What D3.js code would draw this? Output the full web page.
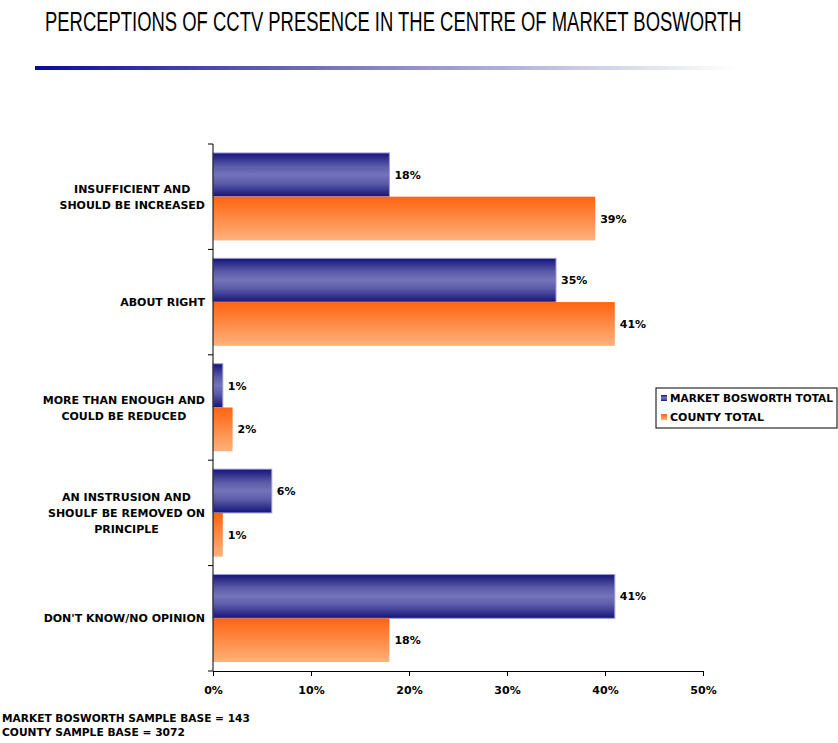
<!DOCTYPE html>
<html>
<head>
<meta charset="utf-8">
<script src="https://cdn.jsdelivr.net/npm/d3@7/dist/d3.min.js"></script>
<style>
  html, body { margin: 0; padding: 0; background: #fff; }
  svg { display: block; }
  .lbl { font-family: "DejaVu Sans", Verdana, sans-serif; font-weight: bold; font-size: 11px; fill: #000; }
</style>
</head>
<body>
<script>
// Survey categories (each label line is a separate entry)
const categories = [
  ["INSUFFICIENT AND", "SHOULD BE INCREASED"],
  ["ABOUT RIGHT"],
  ["MORE THAN ENOUGH AND", "COULD BE REDUCED"],
  ["AN INSTRUSION AND", "SHOULF BE REMOVED ON", "PRINCIPLE"],
  ["DON'T KNOW/NO OPINION"]
];
const seriesNames = ["MARKET BOSWORTH TOTAL", "COUNTY TOTAL"];
const marketBosworth = [18, 35, 1, 6, 41];
const countyTotal = [39, 41, 2, 1, 18];
const xTicks = [0, 10, 20, 30, 40, 50];
const title = "PERCEPTIONS OF CCTV PRESENCE IN THE CENTRE OF MARKET BOSWORTH";
const footnotes = ["MARKET BOSWORTH SAMPLE BASE = 143", "COUNTY SAMPLE BASE = 3072"];

const W = 838, H = 743;
const svg = d3.select("body").append("svg").attr("width", W).attr("height", H);
const defs = svg.append("defs");

// Shrink a text's font size so it is no wider than maxW
function fitFont(sel, maxW) {
  const w = sel.node().getComputedTextLength();
  if (w > maxW) {
    const fs = parseFloat(getComputedStyle(sel.node()).fontSize);
    sel.style("font-size", (fs * maxW / w).toFixed(2) + "px");
  }
}

// Gradients
const gBlue = defs.append("linearGradient").attr("id", "gBlue").attr("x1", 0).attr("y1", 0).attr("x2", 0).attr("y2", 1);
[[0, "#14147a"], [0.3, "#5a5aa8"], [0.5, "#7474bc"], [0.7, "#5a5aa8"], [1, "#14147a"]]
  .forEach(([o, c]) => gBlue.append("stop").attr("offset", o).attr("stop-color", c));
const gOrange = defs.append("linearGradient").attr("id", "gOrange").attr("x1", 0).attr("y1", 0).attr("x2", 0).attr("y2", 1);
[[0, "#ff6410"], [1, "#ffb27c"]]
  .forEach(([o, c]) => gOrange.append("stop").attr("offset", o).attr("stop-color", c));
const gRule = defs.append("linearGradient").attr("id", "gRule").attr("x1", 0).attr("y1", 0).attr("x2", 1).attr("y2", 0);
[[0, "#0a0a9c"], [0.45, "#7c7cbc"], [1, "#ffffff"]]
  .forEach(([o, c]) => gRule.append("stop").attr("offset", o).attr("stop-color", c));

// Title: condensed horizontally to span its row
const titleEl = svg.append("text")
  .attr("x", 0).attr("y", 0)
  .style("font-family", "'Liberation Sans Narrow', 'Liberation Sans', Arial, sans-serif")
  .style("font-size", "27px")
  .attr("fill", "#000")
  .text(title);
const titleW = titleEl.node().getComputedTextLength();
titleEl.attr("transform", `translate(45,31) scale(${697 / titleW},1)`);

// Decorative rule under title
svg.append("rect").attr("x", 35).attr("y", 66).attr("width", 700).attr("height", 4).attr("fill", "url(#gRule)");

// Plot area
const plot = { left: 213, right: 703, top: 144, bottom: 671 };
const x = d3.scaleLinear().domain([0, 50]).range([plot.left, plot.right]);
const y = d3.scaleBand().domain(d3.range(categories.length)).range([plot.top, plot.bottom]).paddingInner(0.17).paddingOuter(0.085);
const sub = d3.scaleBand().domain([0, 1]).range([0, y.bandwidth()]);

const series = [
  { values: marketBosworth, fill: "url(#gBlue)", stroke: "#9a9ad8" },
  { values: countyTotal, fill: "url(#gOrange)", stroke: "none" }
];

series.forEach((s, si) => {
  const g = svg.append("g");
  g.selectAll("rect").data(s.values).join("rect")
    .attr("x", x(0))
    .attr("y", (d, i) => y(i) + sub(si))
    .attr("width", d => x(d) - x(0))
    .attr("height", sub.bandwidth())
    .attr("fill", s.fill)
    .attr("stroke", s.stroke)
    .attr("stroke-width", 1);
  g.selectAll("text").data(s.values).join("text")
    .attr("class", "lbl")
    .attr("x", d => x(d) + 5)
    .attr("y", (d, i) => y(i) + sub(si) + sub.bandwidth() / 2 + 4)
    .text(d => d + "%");
});

// Y axis: line with ticks between categories
const yAxis = svg.append("g");
yAxis.append("line").attr("x1", plot.left).attr("x2", plot.left).attr("y1", plot.top).attr("y2", plot.bottom)
  .attr("stroke", "#000").attr("stroke-width", 1);
const step = (plot.bottom - plot.top) / categories.length;
d3.range(categories.length + 1).forEach(i => {
  yAxis.append("line").attr("x1", plot.left - 5).attr("x2", plot.left)
    .attr("y1", plot.top + i * step).attr("y2", plot.top + i * step)
    .attr("stroke", "#000");
});

// Category labels: centred block whose widest line ends at the label edge
const labelRight = 205;
categories.forEach((lines, i) => {
  const cy = plot.top + (i + 0.5) * step;
  const lh = 16;
  const t = svg.append("text").attr("class", "lbl").attr("text-anchor", "middle");
  const spans = lines.map((ln, k) => t.append("tspan")
      .attr("y", cy + (k - (lines.length - 1) / 2) * lh + 4)
      .text(ln));
  const maxW = d3.max(spans, s => s.node().getComputedTextLength());
  spans.forEach(s => s.attr("x", labelRight - maxW / 2));
});

// X axis
const xAxis = svg.append("g").attr("transform", `translate(0,${plot.bottom})`)
  .call(d3.axisBottom(x).tickValues(xTicks).tickFormat(d => d + "%").tickSize(5).tickSizeOuter(0));
xAxis.select(".domain").attr("stroke", "#000");
xAxis.selectAll(".tick line").attr("stroke", "#000");
xAxis.selectAll(".tick text").attr("class", "lbl").attr("dy", 0).attr("y", 23).style("font-size", "11px");

// Legend
const leg = svg.append("g").attr("transform", "translate(656,388)");
leg.append("rect").attr("width", 181).attr("height", 40).attr("fill", "#fff").attr("stroke", "#000").attr("stroke-width", 1);
seriesNames.forEach((nm, i) => {
  leg.append("rect").attr("x", 5).attr("y", 7 + i * 19).attr("width", 6).attr("height", 6)
    .attr("fill", series[i].fill);
  const t = leg.append("text").attr("class", "lbl").attr("x", 14).attr("y", 14 + i * 19).text(nm);
  fitFont(t, 163);
});

// Sample base notes
const noteWidths = [248, 183];
footnotes.forEach((f, i) => {
  const t = svg.append("text").attr("class", "lbl").attr("x", 2).attr("y", 722 + i * 14).text(f);
  fitFont(t, noteWidths[i]);
});
</script>
</body>
</html>
